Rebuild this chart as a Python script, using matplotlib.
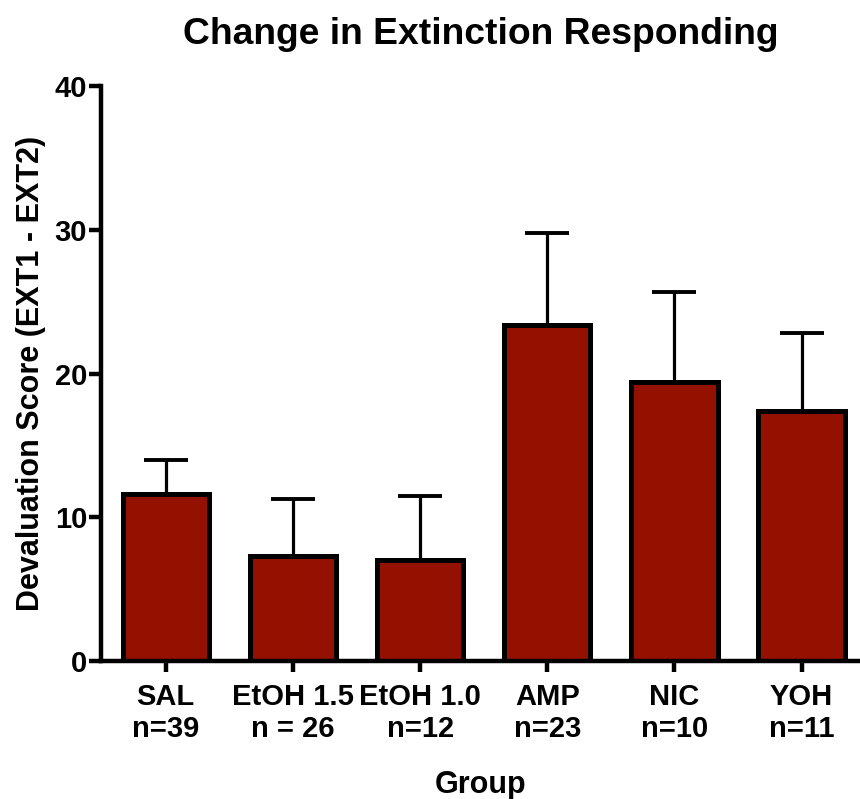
import matplotlib

matplotlib.use("Agg")
import matplotlib.pyplot as plt
import numpy as np

plt.rcParams["font.family"] = ["Liberation Sans", "DejaVu Sans"]
plt.rcParams["font.weight"] = "bold"

groups = ["SAL\nn=39", "EtOH 1.5\nn = 26", "EtOH 1.0\nn=12",
          "AMP\nn=23", "NIC\nn=10", "YOH\nn=11"]
means = [11.6, 7.3, 7.0, 23.4, 19.4, 17.4]
sem = [2.4, 4.0, 4.5, 6.4, 6.3, 5.4]

fig = plt.figure(figsize=(8.6, 7.99), dpi=100)
ax = fig.add_axes([0.1174, 0.1727, 0.8826, 0.7196])

x = np.arange(len(groups))
ax.errorbar(x, means, yerr=[np.zeros(len(sem)), sem], fmt="none",
            ecolor="black", elinewidth=2.3, capsize=16, capthick=2.8, zorder=1)
ax.bar(x, means, width=0.68, color="#941100", edgecolor="black",
       linewidth=3.6, zorder=2)

ax.set_xlim(-0.51, 5.46)
ax.set_ylim(0, 40)
ax.set_yticks([0, 10, 20, 30, 40])
ax.set_xticks(x)
ax.set_xticklabels(groups, fontsize=21, fontweight="bold", linespacing=1.15)
ax.tick_params(axis="y", labelsize=21, width=3.2, length=9, pad=1)
ax.tick_params(axis="x", width=3.2, length=8, pad=8)

for side in ("top", "right"):
    ax.spines[side].set_visible(False)
for side in ("left", "bottom"):
    ax.spines[side].set_linewidth(3.2)

ax.set_ylabel("Devaluation Score (EXT1 - EXT2)", fontsize=22,
              fontweight="bold", labelpad=6)
ax.set_xlabel("Group", fontsize=22, fontweight="bold", labelpad=20)
ax.set_title("Change in Extinction Responding", fontsize=26.8,
             fontweight="bold", pad=30)

fig.savefig("out.png", dpi=100)
